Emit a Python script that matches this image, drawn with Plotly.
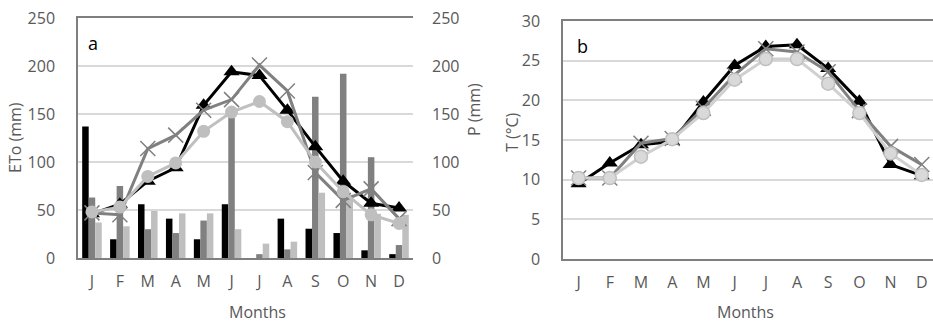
import plotly.graph_objects as go

# ---------------- data ----------------
MONTH_IDX = list(range(12))
MONTH_TICKS = ["J", "F", "M", "A", "M", "J", "J", "A", "S", "O", "N", "D"]

# panel a: precipitation bars (mm)
P_S1 = [137, 19.5, 56, 41, 19.5, 56, 0, 41, 30.5, 26, 8, 4]
P_S2 = [63, 75, 30, 26, 39, 151, 4, 9, 168, 192, 105, 13.5]
P_S3 = [37, 33, 49, 46.5, 46.5, 30, 15, 17, 68, 66, 46, 45]

# panel a: ETo lines (mm)
ETO_S1 = [46, 56, 80, 94, 159, 194, 190, 154, 116, 80, 57, 52]
ETO_S2 = [47, 45, 114, 128, 154, 165, 201, 174, 89, 60, 72, 41]
ETO_S3 = [48, 53, 85, 99, 132, 152, 163, 142, 100, 69, 45, 36]

# panel b: temperature (°C)
T_S1 = [9.5, 12.1, 14.4, 14.8, 19.8, 24.4, 26.8, 27.0, 24.0, 19.9, 11.9, 10.5]
T_S2 = [10.2, 10.2, 14.6, 15.2, 19.0, 23.2, 26.5, 26.1, 23.6, 18.7, 14.2, 11.9]
T_S3 = [10.2, 10.2, 12.9, 15.1, 18.4, 22.6, 25.2, 25.2, 22.1, 18.4, 13.3, 10.6]

ETO_TICKS = [0, 50, 100, 150, 200, 250]
T_TICKS = [0, 5, 10, 15, 20, 25, 30]

# ---------------- style ----------------
W, H = 933, 324
FONT = "Open Sans"
TXT = "#595959"
BLACK = "#000000"
DARK = "#808080"
LIGHT = "#bfbfbf"
GRID = "#d9d9d9"
BOX = "#7f7f7f"


def px_x(p):
    return p / W


def px_y(p):
    return 1 - p / H


fig = go.Figure()

# bars -> y (P axis, right side)
for vals, col, name in [(P_S1, BLACK, "P 1"), (P_S2, DARK, "P 2"), (P_S3, LIGHT, "P 3")]:
    fig.add_trace(go.Bar(x=MONTH_IDX, y=vals, marker=dict(color=col, line=dict(width=0)),
                         name=name, xaxis="x", yaxis="y", showlegend=False))

# ETo lines -> y2 (left side, overlaying)
fig.add_trace(go.Scatter(x=MONTH_IDX, y=ETO_S1, mode="lines+markers", name="ETo 1",
                         line=dict(color=BLACK, width=3),
                         marker=dict(symbol="triangle-up", size=14, color=BLACK),
                         xaxis="x", yaxis="y2", showlegend=False))
fig.add_trace(go.Scatter(x=MONTH_IDX, y=ETO_S2, mode="lines+markers", name="ETo 2",
                         line=dict(color=DARK, width=3),
                         marker=dict(symbol="x-thin", size=15, color=DARK,
                                     line=dict(color=DARK, width=1.5)),
                         xaxis="x", yaxis="y2", showlegend=False))
fig.add_trace(go.Scatter(x=MONTH_IDX, y=ETO_S3, mode="lines+markers", name="ETo 3",
                         line=dict(color=LIGHT, width=3),
                         marker=dict(symbol="circle", size=13, color=LIGHT),
                         xaxis="x", yaxis="y2", showlegend=False))

# temperature lines -> x2/y3
fig.add_trace(go.Scatter(x=MONTH_IDX, y=T_S1, mode="lines+markers", name="T 1",
                         line=dict(color=BLACK, width=3),
                         marker=dict(symbol="triangle-up", size=14, color=BLACK),
                         xaxis="x2", yaxis="y3", showlegend=False))
fig.add_trace(go.Scatter(x=MONTH_IDX, y=T_S2, mode="lines+markers", name="T 2",
                         line=dict(color=DARK, width=3),
                         marker=dict(symbol="x-thin", size=15, color=DARK,
                                     line=dict(color=DARK, width=1.5)),
                         xaxis="x2", yaxis="y3", showlegend=False))
fig.add_trace(go.Scatter(x=MONTH_IDX, y=T_S3, mode="lines+markers", name="T 3",
                         line=dict(color="#d0d0d0", width=3),
                         marker=dict(symbol="circle", size=13, color="#d9d9d9",
                                     line=dict(color=LIGHT, width=1.5)),
                         xaxis="x2", yaxis="y3", showlegend=False))

tickfont = dict(family=FONT, size=16, color=TXT)

xa_dom = [px_x(78), px_x(413)]
xb_dom = [px_x(563), 1.0]
ya_dom = [px_y(258), px_y(18)]
yb_dom = [px_y(259), px_y(21)]

fig.update_layout(
    width=W, height=H,
    margin=dict(l=0, r=0, t=0, b=0),
    paper_bgcolor="white", plot_bgcolor="white",
    barmode="group", bargap=0.3, bargroupgap=0,
    showlegend=False,
    font=dict(family=FONT, color=TXT),
    xaxis=dict(domain=xa_dom, anchor="y", range=[-0.5, 11.5], tickvals=MONTH_IDX,
               ticktext=MONTH_TICKS, tickfont=tickfont, showgrid=False, zeroline=False,
               showline=True, linecolor=BOX, linewidth=1.5, mirror=True, ticks="",
               ticklabelstandoff=8, automargin=False),
    yaxis=dict(domain=ya_dom, anchor="x", side="right", range=[0, 250], tickvals=ETO_TICKS,
               tickfont=tickfont, showgrid=False, zeroline=False, showline=False,
               ticks="", ticklabelstandoff=18, automargin=False),
    yaxis2=dict(domain=ya_dom, anchor="x", overlaying="y", side="left", range=[0, 250],
                tickvals=ETO_TICKS, tickfont=tickfont, showgrid=True, gridcolor=GRID,
                gridwidth=1.5, zeroline=False, showline=True, linecolor=BOX, linewidth=1.5,
                ticks="", ticklabelstandoff=18, automargin=False),
    xaxis2=dict(domain=xb_dom, anchor="y3", range=[-0.5, 11.36], tickvals=MONTH_IDX,
                ticktext=MONTH_TICKS, tickfont=tickfont, showgrid=False, zeroline=False,
                showline=True, linecolor=BOX, linewidth=1.5, mirror=True, ticks="",
                ticklabelstandoff=8, automargin=False),
    yaxis3=dict(domain=yb_dom, anchor="x2", range=[0, 30], tickvals=T_TICKS,
                tickfont=tickfont, showgrid=True, gridcolor=GRID, gridwidth=1.5,
                zeroline=False, showline=True, linecolor=BOX, linewidth=1.5,
                ticks="", ticklabelstandoff=18, automargin=False),
)

annfont = dict(family=FONT, size=16, color=TXT)
anns = [
    dict(text="ETo (mm)", x=px_x(15), y=px_y(138), textangle=-90, font=annfont),
    dict(text="P (mm)", x=px_x(474), y=px_y(110), textangle=-90, font=annfont),
    dict(text="T (°C)", x=px_x(512), y=px_y(132), textangle=-90, font=annfont),
    dict(text="Months", x=px_x(257), y=px_y(312), font=annfont),
    dict(text="Months", x=px_x(745), y=px_y(312), font=annfont),
    dict(text="a", x=px_x(93), y=px_y(43), font=dict(family=FONT, size=18, color="#000000")),
    dict(text="b", x=px_x(582), y=px_y(46), font=dict(family=FONT, size=18, color="#000000")),
]
for a in anns:
    a.update(xref="paper", yref="paper", showarrow=False, xanchor="center", yanchor="middle")
fig.update_layout(annotations=anns)

fig.write_html("out.html", config={"displayModeBar": False},
               post_script="document.body.style.margin='0';document.body.style.overflow='hidden';")
